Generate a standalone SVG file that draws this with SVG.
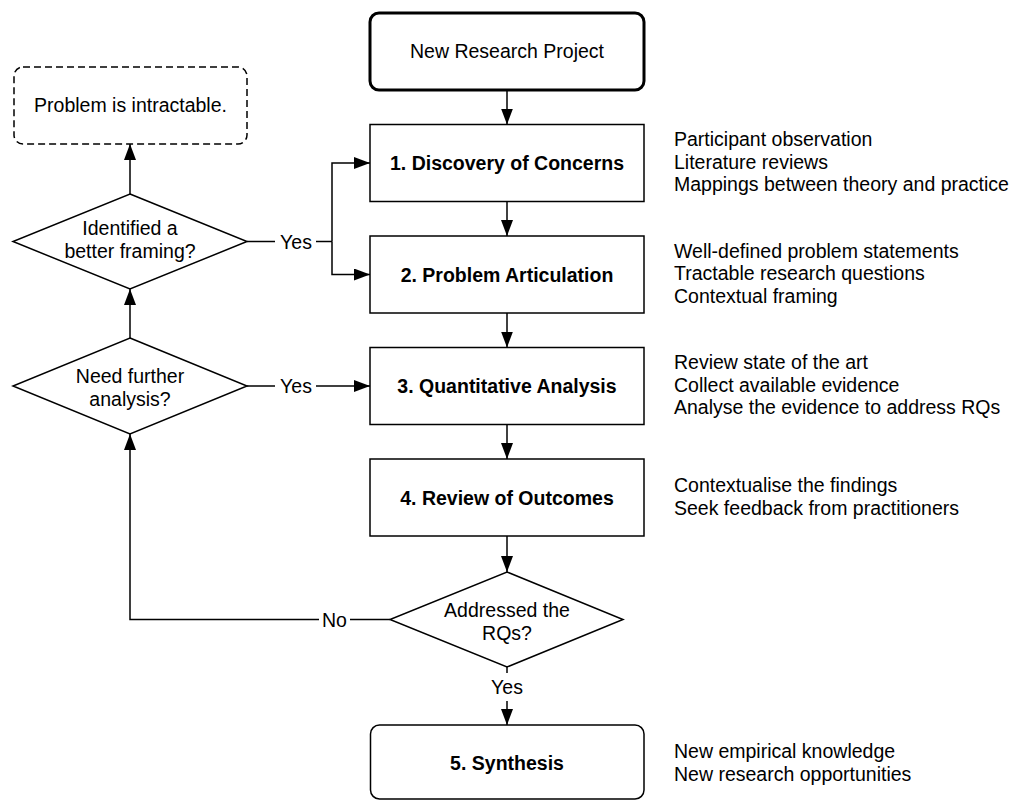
<svg xmlns="http://www.w3.org/2000/svg" width="1013" height="801" viewBox="0 0 1013 801">
<style>
text{font-family:"Liberation Sans",Arial,Helvetica,sans-serif;font-size:19.5px;fill:#000}
.c{text-anchor:middle}
.b{font-weight:bold}
.box{fill:#fff;stroke:#000;stroke-width:1.5}
.thick{fill:#fff;stroke:#000;stroke-width:3}
.dash{fill:#fff;stroke:#000;stroke-width:1.5;stroke-dasharray:7 4}
.ln{fill:none;stroke:#000;stroke-width:1.5}
.arr{fill:none;stroke:#000;stroke-width:1.5;marker-end:url(#ah)}
</style>
<defs>
<marker id="ah" viewBox="0 0 16 12" refX="16" refY="6" markerWidth="16" markerHeight="12" markerUnits="userSpaceOnUse" orient="auto">
<path d="M0,0 L16,6 L0,12 z" fill="#000"/>
</marker>
</defs>
<rect width="1013" height="801" fill="#fff"/>
<g id="connectors">
<path class="arr" d="M507,90 V124.5"/>
<path class="arr" d="M507,201.5 V236"/>
<path class="arr" d="M507,313 V347.5"/>
<path class="arr" d="M507,424.5 V459"/>
<path class="arr" d="M507,536 V572"/>
<path class="ln" d="M507,667 V673"/>
<path class="arr" d="M507,701 V725"/>
<text class="c" x="507" y="694">Yes</text>
<path class="ln" d="M390,619.5 H350"/>
<path class="arr" d="M319,619.5 H130 V434"/>
<text class="c" x="334.5" y="626.5">No</text>
<path class="ln" d="M247,386 H275"/>
<path class="arr" d="M316,386 H370"/>
<text class="c" x="296" y="393">Yes</text>
<path class="arr" d="M130,338 V289"/>
<path class="ln" d="M247,241.5 H275"/>
<path class="ln" d="M316,241.5 H332"/>
<path class="arr" d="M332,241.5 V163 H370"/>
<path class="arr" d="M332,241.5 V274.5 H370"/>
<text class="c" x="296" y="248.5">Yes</text>
<path class="arr" d="M130,194 V144"/>
</g>
<g id="start">
<rect class="thick" x="370" y="13" width="274" height="77" rx="9"/>
<text class="c" x="507" y="58">New Research Project</text>
</g>
<g id="intractable">
<rect class="dash" x="14" y="67" width="233" height="77" rx="9"/>
<text class="c" x="130.5" y="112">Problem is intractable.</text>
</g>
<g id="step1">
<rect class="box" x="370" y="124.5" width="274" height="77"/>
<text class="c b" x="507" y="170">1. Discovery of Concerns</text>
</g>
<g id="step1-notes">
<text x="674" y="146">Participant observation</text>
<text x="674" y="168.5">Literature reviews</text>
<text x="674" y="191">Mappings between theory and practice</text>
</g>
<g id="step2">
<rect class="box" x="370" y="236" width="274" height="77"/>
<text class="c b" x="507" y="281.5">2. Problem Articulation</text>
</g>
<g id="step2-notes">
<text x="674" y="257.5">Well-defined problem statements</text>
<text x="674" y="280">Tractable research questions</text>
<text x="674" y="302.5">Contextual framing</text>
</g>
<g id="step3">
<rect class="box" x="370" y="347.5" width="274" height="77"/>
<text class="c b" x="507" y="393">3. Quantitative Analysis</text>
</g>
<g id="step3-notes">
<text x="674" y="369">Review state of the art</text>
<text x="674" y="391.5">Collect available evidence</text>
<text x="674" y="414">Analyse the evidence to address RQs</text>
</g>
<g id="step4">
<rect class="box" x="370" y="459" width="274" height="77"/>
<text class="c b" x="507" y="504.5">4. Review of Outcomes</text>
</g>
<g id="step4-notes">
<text x="674" y="492">Contextualise the findings</text>
<text x="674" y="514.5">Seek feedback from practitioners</text>
</g>
<g id="decision-framing">
<path class="box" d="M130,194 L247,241.5 L130,289 L13,241.5 z"/>
<text class="c" x="130" y="235">Identified a</text>
<text class="c" x="130" y="257.5">better framing?</text>
</g>
<g id="decision-analysis">
<path class="box" d="M130,338 L247,386 L130,434 L13,386 z"/>
<text class="c" x="130" y="383">Need further</text>
<text class="c" x="130" y="405.5">analysis?</text>
</g>
<g id="decision-rqs">
<path class="box" d="M507,572 L623,619.5 L507,667 L390,619.5 z"/>
<text class="c" x="507" y="617">Addressed the</text>
<text class="c" x="507" y="639.5">RQs?</text>
</g>
<g id="step5">
<rect class="box" x="370.5" y="725" width="273.5" height="74" rx="9"/>
<text class="c b" x="507" y="770">5. Synthesis</text>
</g>
<g id="step5-notes">
<text x="674" y="758">New empirical knowledge</text>
<text x="674" y="780.5">New research opportunities</text>
</g>
</svg>
